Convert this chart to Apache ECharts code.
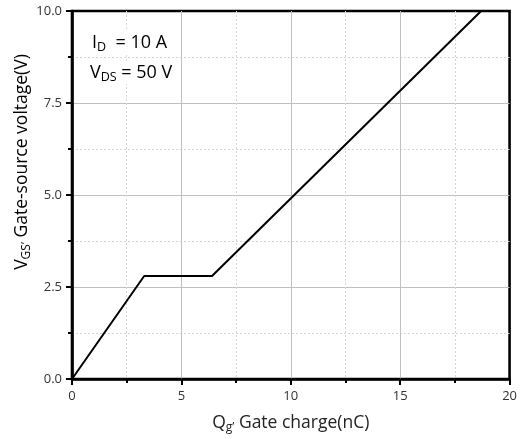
<!DOCTYPE html>
<html><head><meta charset="utf-8">
<script src="https://cdn.jsdelivr.net/npm/echarts@6/dist/echarts.min.js"></script>
<style>html,body{margin:0;padding:0;background:#fff}#c{width:520px;height:439px}</style>
</head><body><div id="c"></div>
<script>
const qg = [0, 3.3, 6.4, 18.7];
const vgs = [0, 2.8, 2.8, 10];
const xTicks = [0, 5, 10, 15, 20];
const yTicks = [0, 2.5, 5, 7.5, 10];

const FONT = '"Open Sans", "DejaVu Sans", sans-serif';
const chart = echarts.init(document.getElementById('c'));
const subRich = {
  n: {fontSize: 17.5, fontFamily: FONT, color: '#222'},
  s: {fontSize: 12, fontFamily: FONT, color: '#222', verticalAlign: 'bottom', padding: [10, 0, 0, 0]}
};
const annRich = {
  n: {fontSize: 18, fontFamily: FONT, color: '#222'},
  s: {fontSize: 12.5, fontFamily: FONT, color: '#222', verticalAlign: 'bottom', padding: [10, 0, 0, 0]}
};
function mkAxis(extra) {
  return Object.assign({
    axisLine: {show: true, onZero: false, lineStyle: {color: '#000000', width: 2.6}},
    axisTick: {show: true, length: 6, lineStyle: {color: '#000000', width: 2}},
    minorTick: {show: true, splitNumber: 2, length: 4, lineStyle: {color: '#000000', width: 2}},
    splitLine: {show: true, showMinLine: false, showMaxLine: false, lineStyle: {color: '#c0c0c0', width: 1}},
    minorSplitLine: {show: true, lineStyle: {color: '#d6d6d6', width: 1, type: [2, 2]}}
  }, extra);
}
chart.setOption({
  animation: false,
  grid: {left: 72, right: 10, top: 11, bottom: 58, show: true, borderColor: '#000000', borderWidth: 2.6, containLabel: false},
  xAxis: mkAxis({
    type: 'value', min: 0, max: 20, interval: 5,
    name: '{n|Q}{s|g\u2019}{n| Gate charge(nC)}',
    nameLocation: 'middle', nameGap: 33,
    nameTextStyle: {rich: subRich},
    axisLabel: {color: '#333', fontSize: 13, fontFamily: FONT, margin: 11}
  }),
  yAxis: mkAxis({
    type: 'value', min: 0, max: 10, interval: 2.5,
    axisLabel: {color: '#333', fontSize: 13, fontFamily: FONT, margin: 10,
      formatter: v => v.toFixed(1)}
  }),
  series: [{
    type: 'line', data: qg.map((x, i) => [x, vgs[i]]),
    showSymbol: false, symbol: 'none',
    lineStyle: {color: '#000', width: 2}
  }],
  graphic: [
    {type: 'text', x: 22, y: 162, rotation: Math.PI / 2, style: {
      text: '{n|V}{s|GS\u2019}{n| Gate-source voltage(V)}', rich: subRich,
      align: 'center', verticalAlign: 'middle'}},
    {type: 'text', left: 90, top: 31, z: 10, style: {text: '{n|I}{s|D}{n|  = 10 A}', rich: annRich,
      backgroundColor: '#fff', padding: [0, 2, 0, 2]}},
    {type: 'text', left: 88, top: 61, z: 10, style: {text: '{n|V}{s|DS}{n| = 50 V}', rich: annRich,
      backgroundColor: '#fff', padding: [0, 2, 0, 2]}}
  ]
});
</script></body></html>
